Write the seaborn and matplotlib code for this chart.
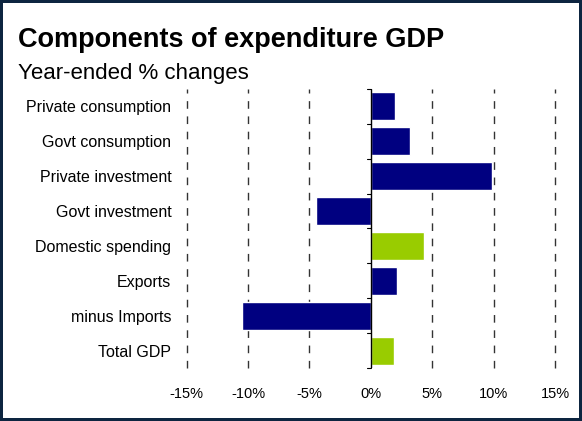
import matplotlib
matplotlib.use("Agg")
import matplotlib.pyplot as plt
import numpy as np
import pandas as pd
import seaborn as sns

# data
categorias = ["Private consumption", "Govt consumption", "Private investment",
              "Govt investment", "Domestic spending", "Exports",
              "minus Imports", "Total GDP"]
variacao = [2.0, 3.2, 9.9, -4.5, 4.3, 2.1, -10.5, 1.85]
grupo = ["comp", "comp", "comp", "comp", "total", "comp", "comp", "total"]
xticks = [-15, -10, -5, 0, 5, 10, 15]
xtick_labels = ["-15%", "-10%", "-5%", "0%", "5%", "10%", "15%"]

cores = {"comp": "#000080", "total": "#99CC00"}

df = pd.DataFrame({"categoria": categorias, "variacao": variacao, "grupo": grupo})

sns.set_theme(style="white")
plt.rcParams["font.family"] = ["Liberation Sans", "DejaVu Sans"]
plt.rcParams["text.color"] = "black"
plt.rcParams["xtick.color"] = "black"
plt.rcParams["ytick.color"] = "black"

fig = plt.figure(figsize=(5.82, 4.21), dpi=100)
fig.patch.set_edgecolor("#0d2540")
fig.patch.set_linewidth(3)
ax = fig.add_axes([0.3208, 0.1259, 0.6329, 0.6627])

sns.barplot(data=df, x="variacao", y="categoria", hue="grupo", palette=cores,
            dodge=False, legend=False, width=0.8, saturation=1, ax=ax,
            orient="h")

ax.set_xlim(-15, 15)
ax.set_ylim(len(categorias) - 0.5, -0.5)
ax.set_xticks(xticks)
ax.set_xticklabels(xtick_labels, fontsize=10.5)
ax.tick_params(axis="x", length=0, pad=14)
ax.tick_params(axis="y", length=0, pad=11, labelsize=11.5)
ax.set_xlabel("")
ax.set_ylabel("")
for s in ax.spines.values():
    s.set_visible(False)

# dashed verticals at every tick except zero
for t in xticks:
    if t != 0:
        ax.axvline(t, color="#333333", lw=1, ls=(0, (5.5, 5.5)), zorder=0,
                   clip_on=False)
ax.axvline(0, color="black", lw=1, zorder=3)
# little ticks on the zero line between categories
for b in np.arange(-0.5, len(categorias)):
    ax.plot([-0.35, 0], [b, b], color="black", lw=0.8, zorder=3, clip_on=False)

fig.text(0.031, 0.888, "Components of expenditure GDP", fontsize=19.5,
         fontweight="bold", va="baseline", ha="left")
fig.text(0.031, 0.812, "Year-ended % changes", fontsize=16,
         va="baseline", ha="left")

fig.savefig("out.png", dpi=100, edgecolor=fig.get_edgecolor())
